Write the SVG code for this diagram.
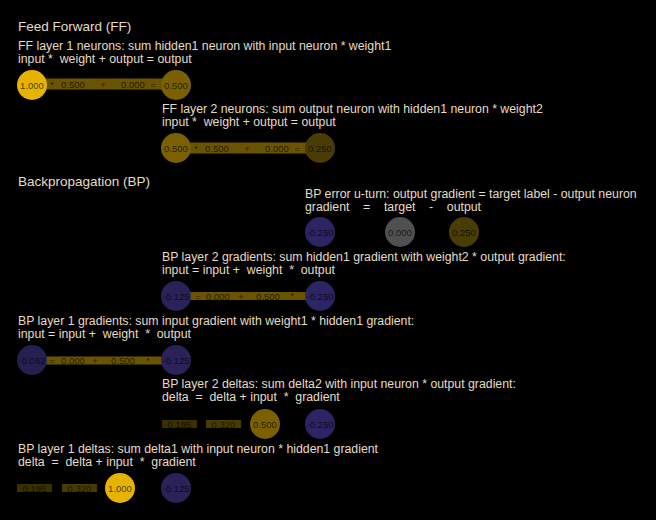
<svg xmlns="http://www.w3.org/2000/svg" width="656" height="520" viewBox="0 0 656 520">
<style>
.bg{fill:#000}
.h{font-family:"Liberation Sans",Arial,sans-serif;font-size:13.5px;fill:#e6dcc3}
.t{font-family:"Liberation Sans",Arial,sans-serif;font-size:12.3px;fill:#e6dcc3;white-space:pre}
.v{font-family:"Liberation Sans",Arial,sans-serif;font-size:9.5px;fill:#000;fill-opacity:0.7;text-anchor:middle}
.g1{fill:#e6b400}
.g05{fill:#7a6000}
.g025{fill:#4a3c05}
.p25{fill:#2d2463}
.p125{fill:#2a2258}
.p062{fill:#252050}
.gr{fill:#505050}
.bar{fill:#6b5400}
.d195{fill:#3a3000}
.d320{fill:#4a3c00}
</style>
<rect class="bg" x="0" y="0" width="656" height="520"/>

<text class="h" x="18" y="31">Feed Forward (FF)</text>
<text class="h" x="18" y="186">Backpropagation (BP)</text>

<g id="labels">
<text class="t" x="18" y="50">FF layer 1 neurons: sum hidden1 neuron with input neuron * weight1</text>
<text class="t" x="18" y="63" xml:space="preserve">input *  weight + output = output</text>

<text class="t" x="162" y="113">FF layer 2 neurons: sum output neuron with hidden1 neuron * weight2</text>
<text class="t" x="162" y="126" xml:space="preserve">input *  weight + output = output</text>

<text class="t" x="305" y="198">BP error u-turn: output gradient = target label - output neuron</text>
<text class="t" x="305" y="211" xml:space="preserve">gradient    =    target    -    output</text>

<text class="t" x="162" y="261">BP layer 2 gradients: sum hidden1 gradient with weight2 * output gradient:</text>
<text class="t" x="162" y="274" xml:space="preserve">input = input +  weight  *  output</text>

<text class="t" x="18" y="325">BP layer 1 gradients: sum input gradient with weight1 * hidden1 gradient:</text>
<text class="t" x="18" y="338" xml:space="preserve">input = input +  weight  *  output</text>

<text class="t" x="162" y="388">BP layer 2 deltas: sum delta2 with input neuron * output gradient:</text>
<text class="t" x="162" y="401" xml:space="preserve">delta  =  delta + input  *  gradient</text>

<text class="t" x="18" y="453">BP layer 1 deltas: sum delta1 with input neuron * hidden1 gradient</text>
<text class="t" x="18" y="466" xml:space="preserve">delta  =  delta + input  *  gradient</text>
</g>

<g id="connectors">
<g id="ff1-bar">
<rect class="bar" x="32" y="78.5" width="144" height="11"/>
<text class="v" x="52" y="87.5">*</text>
<text class="v" x="73" y="88">0.500</text>
<text class="v" x="103" y="88">+</text>
<text class="v" x="133" y="88">0.000</text>
<text class="v" x="153" y="88">=</text>
</g>
<g id="ff2-bar">
<rect class="bar" x="176" y="142.5" width="144" height="11"/>
<text class="v" x="196" y="151.5">*</text>
<text class="v" x="217" y="152">0.500</text>
<text class="v" x="247" y="152">+</text>
<text class="v" x="277" y="152">0.000</text>
<text class="v" x="297" y="152">=</text>
</g>
<g id="bp2-bar">
<rect class="bar" x="176" y="292" width="144" height="8"/>
<text class="v" x="198" y="299.5">=</text>
<text class="v" x="218" y="299.5">0.000</text>
<text class="v" x="241" y="299.5">+</text>
<text class="v" x="268" y="299.5">0.500</text>
<text class="v" x="292" y="299">*</text>
</g>
<g id="bp1-bar">
<rect class="bar" x="32" y="356.5" width="144" height="8"/>
<text class="v" x="52" y="364">=</text>
<text class="v" x="73" y="364">0.000</text>
<text class="v" x="95" y="364">+</text>
<text class="v" x="123" y="364">0.500</text>
<text class="v" x="148" y="363.5">*</text>
</g>
</g>

<g id="ff1-input"><circle class="g1" cx="32" cy="85" r="15"/><text class="v" x="32" y="88.5">1.000</text></g>
<g id="ff1-hidden"><circle class="g05" cx="176" cy="85" r="15"/><text class="v" x="176" y="88.5">0.500</text></g>
<g id="ff2-hidden"><circle class="g05" cx="176" cy="148" r="15"/><text class="v" x="176" y="151.5">0.500</text></g>
<g id="ff2-output"><circle class="g025" cx="320" cy="148" r="15"/><text class="v" x="320" y="151.5">0.250</text></g>

<g id="err-gradient"><circle class="p25" cx="320" cy="232" r="15"/><text class="v" x="320" y="235.5">-0.250</text></g>
<g id="err-target"><circle class="gr" cx="400" cy="232" r="15"/><text class="v" x="400" y="235.5">0.000</text></g>
<g id="err-output"><circle class="g025" cx="464" cy="232" r="15"/><text class="v" x="464" y="235.5">0.250</text></g>

<g id="bp2-hidden-grad"><circle class="p125" cx="176" cy="296" r="15"/><text class="v" x="176" y="299.5">-0.125</text></g>
<g id="bp2-output-grad"><circle class="p25" cx="320" cy="296" r="15"/><text class="v" x="320" y="299.5">-0.250</text></g>

<g id="bp1-input-grad"><circle class="p062" cx="32" cy="360" r="15"/><text class="v" x="32" y="363.5">-0.062</text></g>
<g id="bp1-hidden-grad"><circle class="p125" cx="176" cy="360" r="15"/><text class="v" x="176" y="363.5">-0.125</text></g>

<g id="d2-delta-a"><rect class="d195" x="162" y="420" width="35" height="8"/><text class="v" x="179.5" y="427.5">0.195</text></g>
<g id="d2-delta-b"><rect class="d320" x="206" y="420" width="35" height="8"/><text class="v" x="223.5" y="427.5">0.320</text></g>
<g id="d2-input"><circle class="g05" cx="265" cy="424" r="15"/><text class="v" x="265" y="427.5">0.500</text></g>
<g id="d2-gradient"><circle class="p25" cx="320" cy="424" r="15"/><text class="v" x="320" y="427.5">-0.250</text></g>

<g id="d1-delta-a"><rect class="d195" x="17" y="484" width="35" height="8"/><text class="v" x="34.5" y="491.5">0.195</text></g>
<g id="d1-delta-b"><rect class="d320" x="62" y="484" width="35" height="8"/><text class="v" x="79.5" y="491.5">0.320</text></g>
<g id="d1-input"><circle class="g1" cx="120" cy="488" r="15"/><text class="v" x="120" y="491.5">1.000</text></g>
<g id="d1-gradient"><circle class="p125" cx="176" cy="488" r="15"/><text class="v" x="176" y="491.5">-0.125</text></g>
</svg>
